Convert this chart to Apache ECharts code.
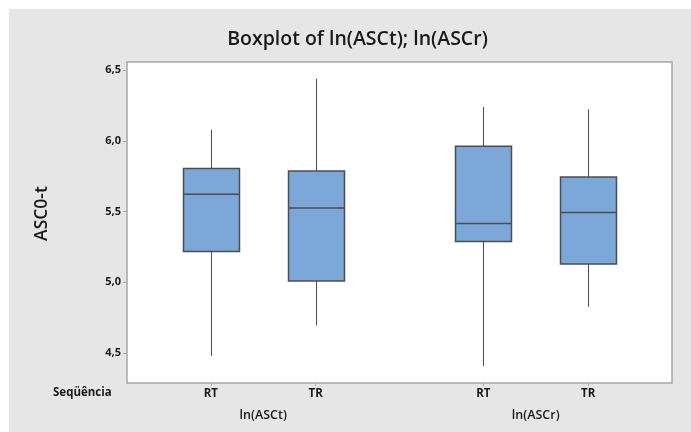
<!DOCTYPE html>
<html><head><meta charset="utf-8">
<script src="https://cdn.jsdelivr.net/npm/echarts@6/dist/echarts.min.js"></script>
<style>
html,body{margin:0;padding:0;background:#ffffff;width:691px;height:432px;overflow:hidden}
#c{position:absolute;left:9px;top:9px;width:682px;height:423px}
</style>
</head><body><div id="c"></div>
<script>
// ---- data ----
const positions = [1, 2, 3.6, 4.6];
const seqLabels = ['RT', 'TR', 'RT', 'TR'];
const groupPositions = [1.5, 4.1];
const groupLabels = ['ln(ASCt)', 'ln(ASCr)'];
const whiskerLow  = [4.476, 4.693, 4.405, 4.825];
const q1          = [5.217, 5.009, 5.288, 5.129];
const median      = [5.622, 5.525, 5.415, 5.493];
const q3          = [5.804, 5.787, 5.962, 5.745];
const whiskerHigh = [6.080, 6.441, 6.240, 6.224];
const yTicks = [4.5, 5.0, 5.5, 6.0, 6.5];
const titleText = 'Boxplot of ln(ASCt); ln(ASCr)';
const yName = 'ASC0-t';
const seqName = 'Seqüência';

const boxData = positions.map((p, i) => [p, whiskerLow[i], q1[i], median[i], q3[i], whiskerHigh[i]]);

const FONT = 'Open Sans';
const DARK = '#1a1a1a';
const LINE = '#4d4d4d';

function labelFor(v, pos, labs) {
  for (let i = 0; i < pos.length; i++) if (Math.abs(pos[i] - v) < 1e-6) return labs[i];
  return '';
}

const chart = echarts.init(document.getElementById('c'), null, {renderer: 'canvas'});
chart.setOption({
  backgroundColor: '#e6e6e6',
  animation: false,
  graphic: [
    {type: 'text', x: 348.5, y: 30,
     style: {text: titleText, x: 0, y: 0, align: 'center', verticalAlign: 'middle',
             font: '600 19.5px "Open Sans"', fill: DARK}},
    {type: 'text', x: 44, y: 384,
     style: {text: seqName, align: 'left', verticalAlign: 'middle',
             font: '700 11.5px "Open Sans"', fill: DARK}}
  ],
  grid: [
    {left: 118, top: 53, right: 19, bottom: 49, show: true, backgroundColor: '#ffffff',
     borderColor: '#a6a6a6', borderWidth: 1.5, containLabel: false, outerBoundsMode: 'none'},
    {left: 118, top: 53, right: 19, bottom: 49, show: false, containLabel: false, outerBoundsMode: 'none'}
  ],
  xAxis: [
    {type: 'value', gridIndex: 0, min: 0.2, max: 5.4, position: 'bottom',
     axisLine: {show: false}, splitLine: {show: false},
     axisTick: {show: true, length: 3, customValues: positions, lineStyle: {color: '#a6a6a6'}},
     axisLabel: {customValues: positions, margin: 5, formatter: v => labelFor(v, positions, seqLabels),
                 fontFamily: FONT, fontWeight: 700, fontSize: 11.5, color: DARK}},
    {type: 'value', gridIndex: 1, min: 0.2, max: 5.4, position: 'bottom',
     axisLine: {show: false}, splitLine: {show: false}, axisTick: {show: false},
     axisLabel: {customValues: groupPositions, margin: 26, formatter: v => labelFor(v, groupPositions, groupLabels),
                 fontFamily: FONT, fontWeight: 600, fontSize: 12.5, color: DARK}}
  ],
  yAxis: [
    {type: 'value', gridIndex: 0, min: 4.286, max: 6.559,
     name: yName, nameLocation: 'middle', nameGap: 76, nameRotate: 90,
     nameTextStyle: {fontFamily: FONT, fontWeight: 600, fontSize: 17.5, color: DARK, padding: [0, 0, 0, 18]},
     axisLine: {show: false}, splitLine: {show: false},
     axisTick: {show: true, length: 4, customValues: yTicks, lineStyle: {color: '#a6a6a6'}},
     axisLabel: {customValues: yTicks, margin: 6, formatter: v => v.toFixed(1).replace('.', ','),
                 fontFamily: FONT, fontWeight: 700, fontSize: 11, color: DARK}},
    {type: 'value', gridIndex: 1, min: 4.286, max: 6.559, show: false}
  ],
  series: [{
    type: 'custom',
    xAxisIndex: 0, yAxisIndex: 0,
    data: boxData,
    encode: {x: 0, y: [1, 2, 3, 4, 5]},
    renderItem: function (params, api) {
      const x = api.value(0);
      const lo = api.coord([x, api.value(1)]);
      const b1 = api.coord([x, api.value(2)]);
      const md = api.coord([x, api.value(3)]);
      const b3 = api.coord([x, api.value(4)]);
      const hi = api.coord([x, api.value(5)]);
      const cx = Math.round(lo[0]) + 0.5;
      const hw = 28;
      return {type: 'group', children: [
        {type: 'line', shape: {x1: cx, y1: hi[1], x2: cx, y2: b3[1]}, style: {stroke: LINE, lineWidth: 1}},
        {type: 'line', shape: {x1: cx, y1: b1[1], x2: cx, y2: lo[1]}, style: {stroke: LINE, lineWidth: 1}},
        {type: 'rect', shape: {x: cx - hw, y: b3[1], width: 2 * hw, height: b1[1] - b3[1]},
         style: {fill: '#7ba7d9', stroke: LINE, lineWidth: 1.5}},
        {type: 'line', shape: {x1: cx - hw, y1: md[1], x2: cx + hw, y2: md[1]}, style: {stroke: LINE, lineWidth: 1.5}}
      ]};
    }
  }]
});
</script>
</body></html>
